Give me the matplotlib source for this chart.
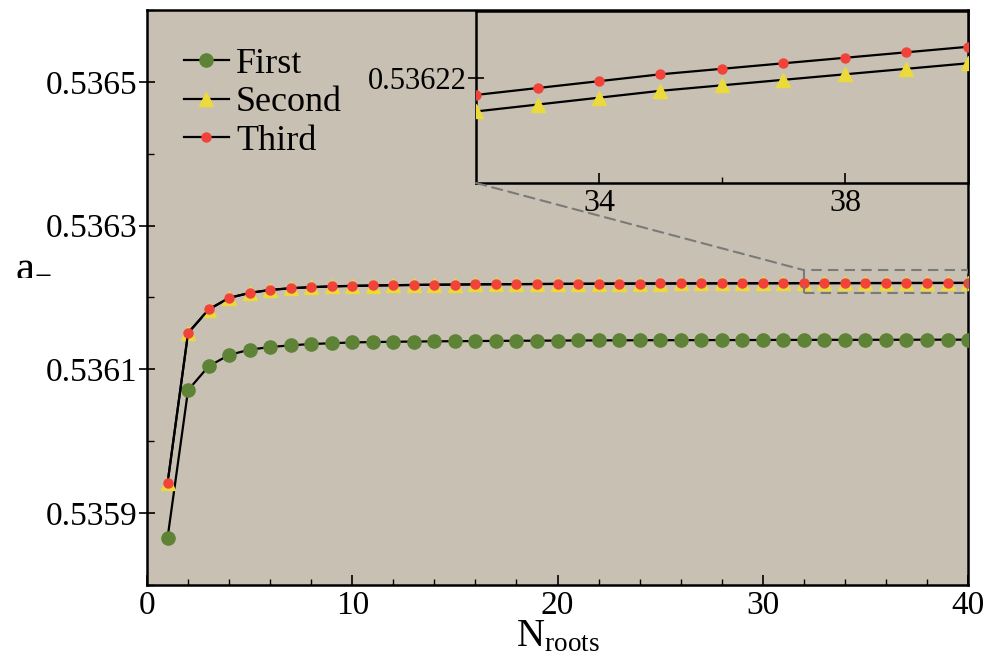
import matplotlib
matplotlib.use("Agg")
import matplotlib.pyplot as plt
from matplotlib.patches import Rectangle, ConnectionPatch
from matplotlib.ticker import MultipleLocator

plt.rcParams['font.family'] = ['Liberation Serif', 'DejaVu Serif']
plt.rcParams['mathtext.fontset'] = 'custom'
plt.rcParams['mathtext.rm'] = 'Liberation Serif'
plt.rcParams['mathtext.it'] = 'Liberation Serif:italic'

# ---------------- data ----------------
n_roots = list(range(1, 41))

first = [0.5358653, 0.5360709, 0.5361042, 0.5361200, 0.5361273, 0.5361310, 0.5361333,
         0.5361352, 0.5361362, 0.5361374, 0.5361379, 0.5361383, 0.5361386, 0.5361389,
         0.5361391, 0.5361393, 0.5361395, 0.5361397, 0.5361398, 0.5361400, 0.5361401,
         0.5361402, 0.5361403, 0.5361404, 0.5361405, 0.5361405, 0.5361406, 0.5361407,
         0.5361407, 0.5361408, 0.5361409, 0.5361409, 0.5361410, 0.5361410, 0.5361410,
         0.5361411, 0.5361411, 0.5361412, 0.5361412, 0.5361412]

third = [0.5359416, 0.5361505, 0.5361832, 0.5361994, 0.5362063, 0.5362105, 0.5362128,
         0.5362143, 0.5362154, 0.5362161, 0.5362166, 0.5362170, 0.5362174, 0.5362177,
         0.5362179, 0.5362182, 0.5362184, 0.5362185, 0.5362187, 0.53621885, 0.53621898,
         0.53621910, 0.53621921, 0.53621931, 0.53621940, 0.53621949, 0.53621956,
         0.53621964, 0.53621970, 0.53621977, 0.53621983, 0.53621988, 0.53621993,
         0.53621998, 0.53622003, 0.53622007, 0.53622011, 0.53622015, 0.53622019,
         0.53622023]

second = [0.5359415, 0.5361504, 0.5361831, 0.5361993, 0.5362062, 0.5362104, 0.5362127,
          0.5362142, 0.5362153, 0.5362160, 0.5362165, 0.5362169, 0.5362173, 0.5362176,
          0.5362178, 0.5362181, 0.5362183, 0.5362184, 0.5362186, 0.53621873, 0.53621886,
          0.53621898, 0.53621909, 0.53621919, 0.53621928, 0.53621937, 0.53621944,
          0.53621952, 0.53621958, 0.53621965, 0.53621971, 0.53621976, 0.53621981,
          0.53621986, 0.53621991, 0.53621995, 0.53621999, 0.53622003, 0.53622007,
          0.53622011]

series_labels = ["First", "Second", "Third"]
x_ticks = [0, 10, 20, 30, 40]
y_ticks = [0.5359, 0.5361, 0.5363, 0.5365]
inset_xticks = [34, 38]
inset_yticks = [0.53622]
zoom_x = (32, 40)
zoom_box_y = (0.536206, 0.536238)
inset_ylim = (0.53621924, 0.53622049)

# ---------------- style ----------------
bg = '#C8C1B3'
c_green = '#5E8236'
c_yellow = '#EBDA3A'
c_red = '#F2433A'

fig = plt.figure(figsize=(9.88, 6.58), dpi=100)
ax = fig.add_axes([0.1488, 0.111, 0.831, 0.874])
ax.set_facecolor(bg)

ax.plot(n_roots, first, '-', color='black', lw=1.6, marker='o', ms=9.5,
        mfc=c_green, mec=c_green, label=series_labels[0], zorder=3)
ax.plot(n_roots, second, '-', color='black', lw=1.6, marker='^', ms=9.5,
        mfc=c_yellow, mec=c_yellow, label=series_labels[1], zorder=3)
ax.plot(n_roots, third, '-', color='black', lw=1.6, marker='o', ms=6.5,
        mfc=c_red, mec=c_red, label=series_labels[2], zorder=4)

ax.set_xlim(0, 40)
ax.set_ylim(0.5358, 0.5366)
ax.set_xticks(x_ticks)
ax.xaxis.set_minor_locator(MultipleLocator(2))
ax.set_yticks(y_ticks)
ax.set_yticklabels([f"{v:.4f}" for v in y_ticks])
ax.yaxis.set_minor_locator(MultipleLocator(0.0001))
ax.tick_params(axis='x', which='major', direction='in', length=7, width=1.2,
               labelsize=24, pad=4)
ax.tick_params(axis='x', which='minor', direction='in', length=4, width=1.0)
ax.tick_params(axis='y', which='major', direction='inout', length=12, width=1.2,
               labelsize=24, pad=1)
ax.tick_params(axis='y', which='minor', direction='in', length=5, width=1.0)
for s in ax.spines.values():
    s.set_linewidth(1.8)

ax.set_xlabel(r"$\mathrm{N}_{\mathrm{roots}}$", fontsize=28, labelpad=-2)
ax.set_ylabel(r"a$_{-}$", fontsize=31, rotation=0, ha='left', va='center')
ax.yaxis.set_label_coords(-0.161, 0.556)

leg = ax.legend(loc='upper left', bbox_to_anchor=(0.027, 0.96), frameon=False,
                fontsize=26, handlelength=1.25, handletextpad=0.2,
                labelspacing=0.15, borderaxespad=0.0)

# zoom box on main axes
rect = Rectangle((zoom_x[0], zoom_box_y[0]), zoom_x[1] - zoom_x[0],
                 zoom_box_y[1] - zoom_box_y[0], fill=False, ls=(0, (5, 3)),
                 ec='#7a7a7a', lw=1.5, zorder=5)
ax.add_patch(rect)

# ---------------- inset ----------------
axin = fig.add_axes([476 / 988, 1 - 183 / 658, 492 / 988, 172 / 658])
axin.set_facecolor(bg)
axin.plot(n_roots, second, '-', color='black', lw=1.6, marker='^', ms=9.5,
          mfc=c_yellow, mec=c_yellow, zorder=3)
axin.plot(n_roots, third, '-', color='black', lw=1.6, marker='o', ms=6.5,
          mfc=c_red, mec=c_red, zorder=4)
axin.set_xlim(*zoom_x)
axin.set_ylim(*inset_ylim)
axin.set_xticks(inset_xticks)
axin.set_xticks([36], minor=True)
axin.set_yticks(inset_yticks)
axin.set_yticklabels([f"{v:.5f}" for v in inset_yticks])
axin.tick_params(axis='x', which='major', direction='in', length=7, width=1.2,
                 labelsize=23, pad=4)
axin.tick_params(axis='x', which='minor', direction='in', length=4, width=1.0)
axin.tick_params(axis='y', which='major', direction='inout', length=12, width=1.2,
                 labelsize=22, pad=1)
for s in axin.spines.values():
    s.set_linewidth(1.8)

con = ConnectionPatch(xyA=(zoom_x[0], inset_ylim[0]), coordsA=axin.transData,
                      xyB=(zoom_x[0], zoom_box_y[1]), coordsB=ax.transData,
                      ls=(0, (5, 3)), color='#7a7a7a', lw=1.5, zorder=2)
fig.add_artist(con)

fig.savefig("out.png", dpi=100)
